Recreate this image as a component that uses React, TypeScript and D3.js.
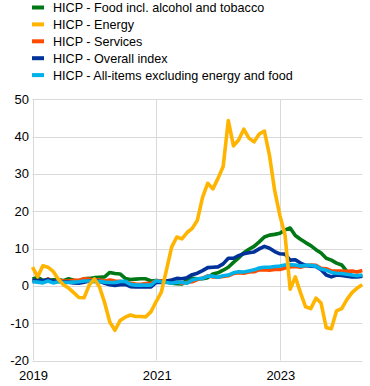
import React, { useEffect, useRef } from 'react';
import * as d3 from 'd3';

// monthly annual rates, Jan 2019 - May 2024
const food = [
  1.8, 2.3, 1.5, 1.5, 1.6, 1.6, 1.4, 1.9, 1.5, 1.3, 1.9, 2.0,
  2.2, 2.3, 2.4, 3.6, 3.3, 3.2, 2.0, 1.7, 1.8, 1.9, 1.9, 1.3,
  1.4, 1.3, 1.1, 0.7, 0.6, 0.5, 1.6, 2.0, 1.9, 1.9, 2.2, 3.2,
  3.5, 4.2, 5.0, 6.3, 7.5, 8.9, 9.8, 10.6, 11.8, 13.1, 13.6, 13.8,
  14.1, 15.0, 15.5, 13.5, 12.5, 11.6, 10.8, 9.7, 8.8, 7.4, 6.9, 6.1,
  5.6, 3.9, 2.6, 2.8, 2.6
];
const energy = [
  5.0, 2.4, 5.4, 5.0, 3.9, 1.8, 0.3, -0.6, -1.8, -3.1, -3.2, 0.2,
  1.9, -0.3, -4.5, -9.7, -11.9, -9.3, -8.4, -7.8, -8.2, -8.2, -8.3, -6.9,
  -4.2, -1.7, 4.3, 10.4, 13.1, 12.6, 14.3, 15.4, 17.6, 23.7, 27.5, 26.0,
  28.8, 32.0, 44.3, 37.5, 39.1, 42.0, 39.6, 38.6, 40.7, 41.5, 34.9, 25.5,
  18.9, 13.7, -0.9, 2.4, -1.8, -5.6, -6.1, -3.3, -4.6, -11.2, -11.5, -6.7,
  -6.1, -3.7, -1.8, -0.6, 0.3
];
const services = [
  1.2, 1.4, 1.1, 1.9, 1.0, 1.6, 1.3, 1.3, 1.5, 1.5, 1.9, 1.8,
  1.5, 1.6, 1.3, 1.6, 1.3, 1.2, 0.9, 0.7, 0.5, 0.4, 0.6, 0.7,
  1.4, 1.3, 1.3, 0.9, 1.1, 0.7, 0.9, 1.1, 1.7, 2.1, 2.7, 2.4,
  2.3, 2.5, 2.7, 3.3, 3.5, 3.4, 3.7, 3.8, 4.3, 4.3, 4.2, 4.4,
  4.4, 4.8, 5.1, 5.2, 5.0, 5.4, 5.6, 5.5, 4.7, 4.6, 4.0, 4.0,
  4.0, 3.9, 4.0, 3.7, 4.1
];
const overall = [
  1.4, 1.5, 1.4, 1.7, 1.2, 1.3, 1.0, 1.0, 0.8, 0.7, 1.0, 1.3,
  1.4, 1.2, 0.7, 0.3, 0.1, 0.3, 0.4, -0.2, -0.3, -0.3, -0.3, -0.3,
  0.9, 0.9, 1.3, 1.6, 2.0, 1.9, 2.2, 3.0, 3.4, 4.1, 4.9, 5.0,
  5.1, 5.9, 7.4, 7.4, 8.1, 8.6, 8.9, 9.1, 9.9, 10.6, 10.1, 9.2,
  8.6, 8.5, 6.9, 7.0, 6.1, 5.5, 5.3, 5.2, 4.3, 2.9, 2.4, 2.9,
  2.8, 2.6, 2.4, 2.4, 2.6
];
const core = [
  1.1, 1.0, 0.8, 1.3, 0.8, 1.1, 0.9, 0.9, 1.0, 1.1, 1.3, 1.3,
  1.1, 1.2, 1.0, 0.9, 0.9, 1.2, 1.2, 0.4, 0.2, 0.2, 0.2, 0.2,
  1.4, 1.1, 0.9, 0.7, 1.0, 0.9, 0.7, 1.6, 1.9, 2.0, 2.6, 2.6,
  2.3, 2.7, 2.9, 3.5, 3.8, 3.7, 4.0, 4.3, 4.8, 5.0, 5.0, 5.2,
  5.3, 5.6, 5.7, 5.6, 5.3, 5.5, 5.5, 5.3, 4.5, 4.2, 3.6, 3.4,
  3.3, 3.1, 2.9, 2.7, 2.9
];

const legendLabels = [
  'HICP - Food incl. alcohol and tobacco',
  'HICP - Energy',
  'HICP - Services',
  'HICP - Overall index',
  'HICP - All-items excluding energy and food'
];
const legendColors = ['#007816', '#FFB400', '#FF4B00', '#003299', '#00B1EA'];

const yTicks = [-20, -10, 0, 10, 20, 30, 40, 50];
const xTickMonths = [0, 24, 48];
const xTickLabels = ['2019', '2021', '2023'];

const App: React.FC = () => {
  const svgRef = useRef<SVGSVGElement>(null);
  const width = 370;
  const height = 386;

  useEffect(() => {
    if (!svgRef.current) return;
    d3.select(svgRef.current).selectAll('*').remove();
    const svg = d3.select(svgRef.current);
    const font = 'Arial, "Liberation Sans", sans-serif';

    const x = d3.scaleLinear().domain([0, energy.length - 1]).range([32.5, 362.3]);
    const y = d3.scaleLinear().domain([-20, 50]).range([360.5, 99.3]);

    // grid
    svg.append('g')
      .selectAll('line')
      .data(yTicks)
      .enter()
      .append('line')
      .attr('x1', x(0))
      .attr('x2', x(energy.length - 1))
      .attr('y1', d => Math.round(y(d)) + 0.5)
      .attr('y2', d => Math.round(y(d)) + 0.5)
      .attr('stroke', '#d9d9d9')
      .attr('stroke-width', 1);

    svg.append('g')
      .selectAll('line')
      .data(xTickMonths)
      .enter()
      .append('line')
      .attr('x1', d => Math.round(x(d)) + 0.5)
      .attr('x2', d => Math.round(x(d)) + 0.5)
      .attr('y1', y(50))
      .attr('y2', y(-20))
      .attr('stroke', '#d9d9d9')
      .attr('stroke-width', 1);

    // y labels
    svg.append('g')
      .selectAll('text')
      .data(yTicks)
      .enter()
      .append('text')
      .attr('x', 29)
      .attr('y', d => y(d) + 4.5)
      .attr('text-anchor', 'end')
      .attr('font-family', font)
      .attr('font-size', 13)
      .attr('fill', '#000')
      .text(d => d);

    // x labels
    svg.append('g')
      .selectAll('text')
      .data(xTickMonths)
      .enter()
      .append('text')
      .attr('x', d => x(d) + 1)
      .attr('y', 379.5)
      .attr('text-anchor', 'middle')
      .attr('font-family', font)
      .attr('font-size', 13)
      .attr('fill', '#000')
      .text((d, i) => xTickLabels[i]);

    // lines (energy on top)
    const line = d3.line<number>()
      .x((d, i) => x(i))
      .y(d => y(d));

    const series = [
      { values: food, color: legendColors[0] },
      { values: services, color: legendColors[2] },
      { values: overall, color: legendColors[3] },
      { values: core, color: legendColors[4] },
      { values: energy, color: legendColors[1] }
    ];

    svg.append('g')
      .selectAll('path')
      .data(series)
      .enter()
      .append('path')
      .attr('d', d => line(d.values))
      .attr('fill', 'none')
      .attr('stroke', d => d.color)
      .attr('stroke-width', 3.6)
      .attr('stroke-linejoin', 'round');

    // legend
    const legend = svg.append('g');
    const rowY = (i: number) => 7.5 + i * 16.9;

    legend.selectAll('rect')
      .data(legendColors)
      .enter()
      .append('rect')
      .attr('x', 32)
      .attr('y', (d, i) => rowY(i) - 2)
      .attr('width', 12)
      .attr('height', 4)
      .attr('fill', d => d);

    legend.selectAll('text')
      .data(legendLabels)
      .enter()
      .append('text')
      .attr('x', 53)
      .attr('y', (d, i) => rowY(i) + 4.5)
      .attr('font-family', font)
      .attr('font-size', 12.6)
      .attr('fill', '#000')
      .text(d => d);
  }, []);

  return (
    <svg
      ref={svgRef}
      width={width}
      height={height}
      style={{ position: 'absolute', left: 0, top: 0, background: '#fff' }}
    />
  );
};

export default App;
